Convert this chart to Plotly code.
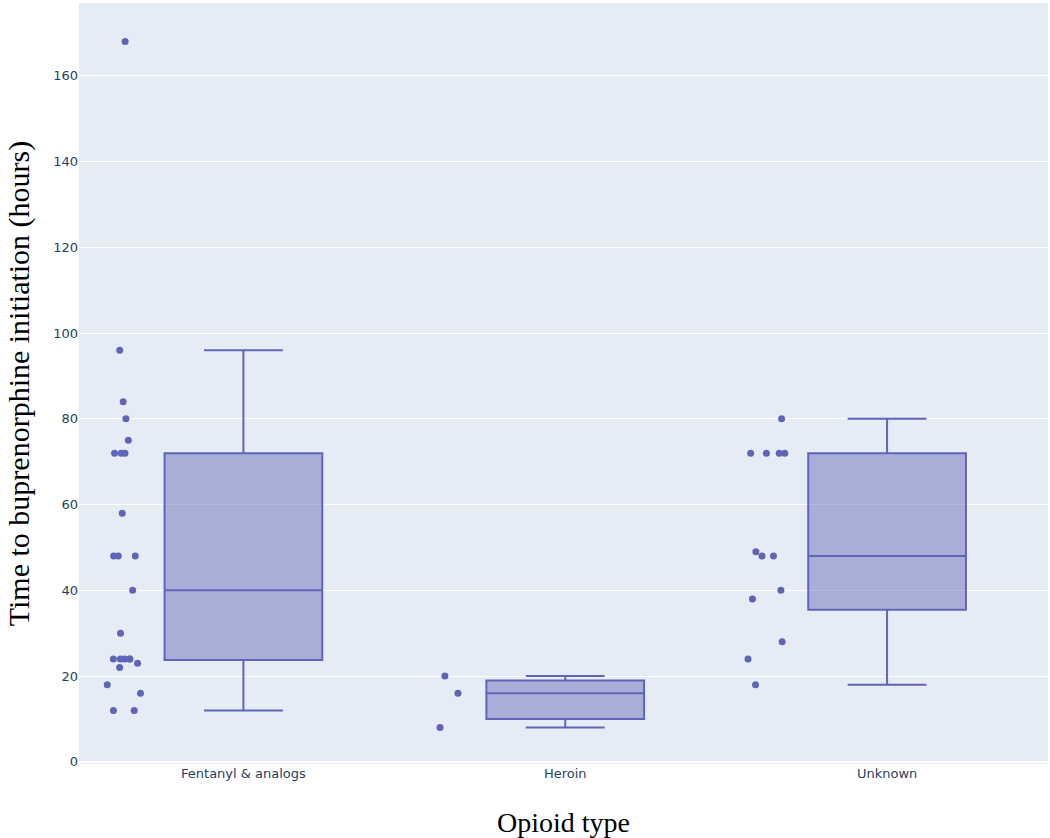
import plotly.graph_objects as go

categories = ["Fentanyl & analogs", "Heroin", "Unknown"]

fentanyl = [168, 96, 84, 80, 75, 72, 72, 72, 58, 48, 48, 48, 40, 30,
            24, 24, 24, 24, 24, 23, 22, 18, 16, 12, 12]
heroin = [20, 16, 8]
unknown = [80, 72, 72, 72, 72, 49, 48, 48, 40, 38, 28, 24, 18]

values = fentanyl + heroin + unknown
labels = ([categories[0]] * len(fentanyl) + [categories[1]] * len(heroin)
          + [categories[2]] * len(unknown))

color = "rgb(96,100,182)"
serif = "Liberation Serif, Times New Roman, serif"
sans = "DejaVu Sans, Verdana, sans-serif"

fig = go.Figure()
fig.add_trace(go.Box(
    x=labels, y=values,
    boxpoints="all", jitter=0.3, pointpos=-1.5,
    marker=dict(color=color, size=7),
    line=dict(color=color, width=2),
    fillcolor="rgba(96,100,182,0.45)",
    showlegend=False,
))

fig.update_layout(
    template="plotly",
    width=1050, height=838,
    boxmode="group",
    margin=dict(l=79, r=2, t=3, b=74, autoexpand=False),
    paper_bgcolor="white",
    plot_bgcolor="#e5ecf6",
    xaxis=dict(
        title=dict(text="Opioid type",
                   font=dict(family=serif, size=28, color="black"),
                   standoff=36),
        tickfont=dict(family=sans, size=13, color="#2a3f5f"),
        categoryorder="array", categoryarray=categories,
        automargin=False,
    ),
    yaxis=dict(
        title=dict(text="Time to buprenorphine initiation (hours)",
                   font=dict(family=serif, size=30, color="black"),
                   standoff=14),
        tickfont=dict(family=sans, size=13, color="#2a3f5f"),
        range=[-0.5, 177], dtick=20,
        zeroline=True,
        automargin=False,
    ),
)

fig.write_html("out.html",
               config={"displayModeBar": False},
               post_script="document.body.style.margin='0';")
